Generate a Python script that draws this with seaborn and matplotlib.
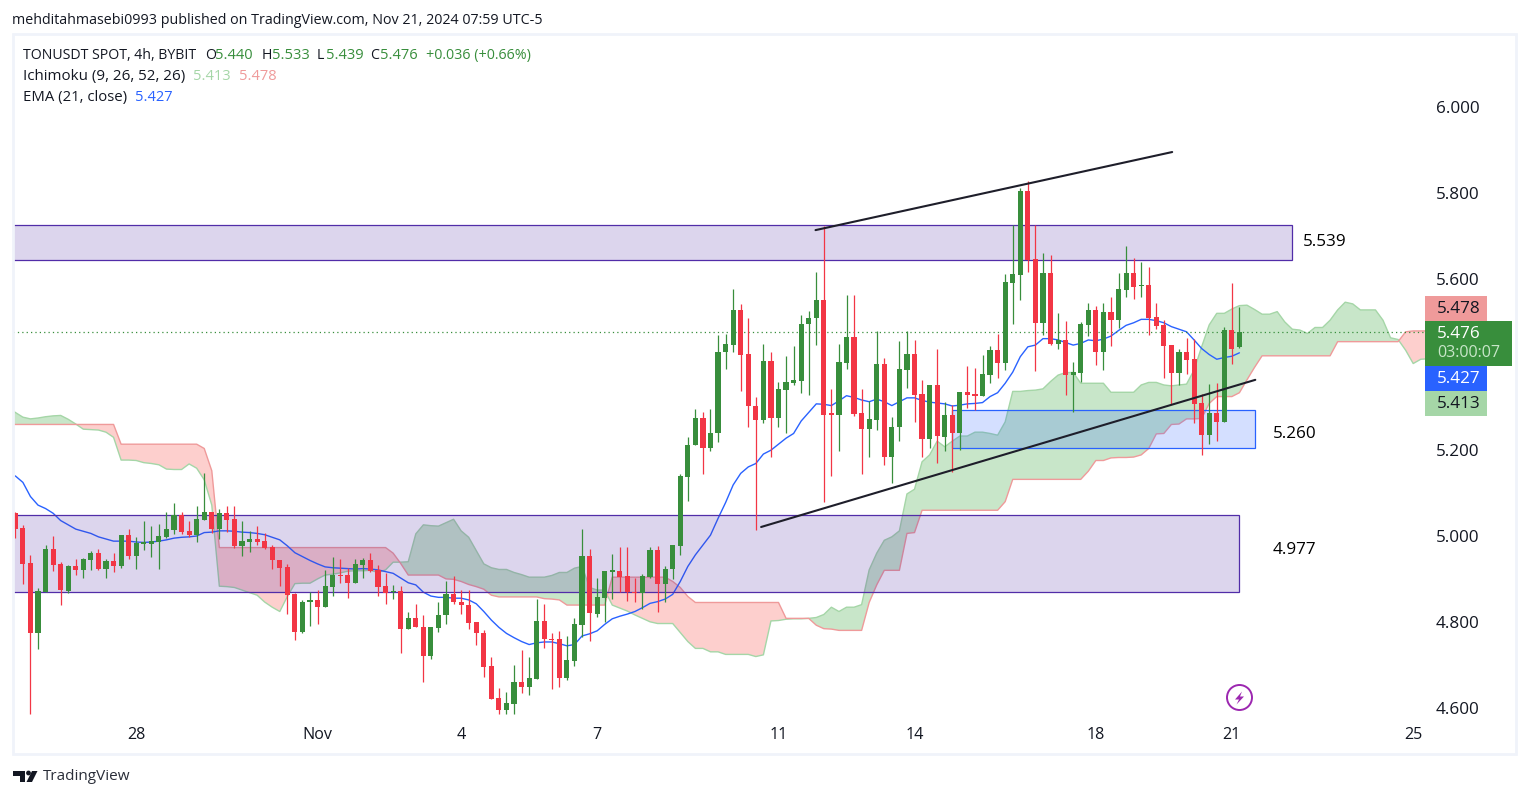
import numpy as np
import pandas as pd
import matplotlib.pyplot as plt
import seaborn as sns
from matplotlib.patches import Rectangle, Polygon, Circle
from matplotlib.transforms import Affine2D

# 4h candles, i = 0..162
opens = [
    5.053, 5.018, 4.936, 4.775, 4.869, 4.969, 4.934, 4.871, 4.929, 4.921,
    4.945, 4.960, 4.924, 4.941, 4.929, 5.002, 4.954, 4.982, 4.982, 4.987,
    4.998, 5.015, 5.049, 5.011, 5.002, 5.038, 5.055, 5.017, 5.053, 5.039,
    4.977, 4.987, 4.992, 4.988, 4.974, 4.943, 4.927, 4.864, 4.777, 4.845,
    4.850, 4.835, 4.882, 4.909, 4.908, 4.891, 4.933, 4.943, 4.920, 4.883,
    4.869, 4.871, 4.784, 4.808, 4.789, 4.721, 4.786, 4.817, 4.864, 4.845,
    4.838, 4.799, 4.775, 4.696, 4.622, 4.595, 4.609, 4.659, 4.649, 4.667,
    4.803, 4.761, 4.759, 4.670, 4.709, 4.793, 4.953, 4.819, 4.856, 4.917,
    4.918, 4.906, 4.869, 4.866, 4.904, 4.967, 4.887, 4.922, 4.977, 5.138,
    5.211, 5.274, 5.204, 5.239, 5.430, 5.446, 5.526, 5.424, 5.302, 5.271,
    5.409, 5.274, 5.341, 5.357, 5.362, 5.493, 5.507, 5.549, 5.284, 5.283,
    5.404, 5.465, 5.286, 5.250, 5.271, 5.402, 5.185, 5.253, 5.388, 5.424,
    5.330, 5.227, 5.351, 5.231, 5.282, 5.240, 5.336, 5.331, 5.326, 5.375,
    5.433, 5.403, 5.590, 5.608, 5.804, 5.646, 5.496, 5.613, 5.447, 5.457,
    5.375, 5.380, 5.492, 5.527, 5.429, 5.522, 5.503, 5.573, 5.613, 5.583,
    5.585, 5.510, 5.492, 5.445, 5.380, 5.429, 5.412, 5.310, 5.235, 5.287,
    5.266, 5.480, 5.440,
]
highs = [
    5.055, 5.025, 4.955, 4.878, 4.978, 4.999, 4.939, 4.932, 4.946, 4.948,
    4.964, 4.969, 4.946, 4.960, 5.002, 5.016, 4.997, 5.034, 5.023, 5.029,
    5.055, 5.078, 5.057, 5.036, 5.071, 5.146, 5.055, 5.062, 5.069, 5.071,
    5.036, 5.011, 5.023, 5.006, 4.978, 4.943, 4.934, 4.866, 4.850, 4.869,
    4.873, 4.920, 4.950, 4.946, 4.925, 4.946, 4.948, 4.960, 4.932, 4.913,
    4.885, 4.883, 4.824, 4.841, 4.815, 4.789, 4.845, 4.894, 4.906, 4.873,
    4.873, 4.799, 4.780, 4.719, 4.645, 4.636, 4.699, 4.734, 4.719, 4.852,
    4.841, 4.775, 4.778, 4.766, 4.810, 5.016, 4.969, 4.901, 4.918, 4.957,
    4.974, 4.974, 4.901, 4.911, 4.974, 4.976, 4.929, 4.978, 5.144, 5.230,
    5.295, 5.288, 5.295, 5.468, 5.472, 5.575, 5.540, 5.507, 5.323, 5.447,
    5.430, 5.358, 5.419, 5.444, 5.514, 5.524, 5.615, 5.723, 5.342, 5.447,
    5.561, 5.561, 5.342, 5.314, 5.477, 5.416, 5.277, 5.454, 5.477, 5.458,
    5.363, 5.351, 5.435, 5.312, 5.305, 5.336, 5.396, 5.392, 5.422, 5.443,
    5.472, 5.611, 5.724, 5.811, 5.827, 5.724, 5.660, 5.655, 5.520, 5.501,
    5.406, 5.499, 5.543, 5.536, 5.543, 5.557, 5.613, 5.676, 5.648, 5.639,
    5.627, 5.543, 5.503, 5.445, 5.436, 5.461, 5.459, 5.331, 5.354, 5.357,
    5.487, 5.590, 5.533,
]
lows = [
    4.996, 4.889, 4.586, 4.737, 4.869, 4.919, 4.838, 4.868, 4.910, 4.903,
    4.921, 4.921, 4.903, 4.915, 4.926, 4.947, 4.924, 4.968, 4.952, 4.924,
    4.996, 5.005, 5.005, 4.997, 4.987, 5.038, 5.006, 4.994, 5.009, 4.973,
    4.954, 4.963, 4.980, 4.970, 4.924, 4.884, 4.819, 4.758, 4.775, 4.791,
    4.796, 4.834, 4.859, 4.891, 4.856, 4.891, 4.901, 4.917, 4.861, 4.842,
    4.854, 4.728, 4.784, 4.789, 4.660, 4.714, 4.777, 4.796, 4.842, 4.819,
    4.784, 4.747, 4.672, 4.621, 4.586, 4.586, 4.586, 4.635, 4.630, 4.667,
    4.740, 4.644, 4.649, 4.665, 4.698, 4.765, 4.756, 4.812, 4.800, 4.852,
    4.869, 4.849, 4.847, 4.831, 4.901, 4.824, 4.845, 4.899, 4.955, 5.082,
    5.211, 5.145, 5.197, 5.220, 5.390, 5.430, 5.339, 5.253, 5.015, 5.264,
    5.185, 5.253, 5.241, 5.353, 5.334, 5.329, 5.446, 5.080, 5.141, 5.199,
    5.390, 5.280, 5.145, 5.183, 5.248, 5.166, 5.124, 5.222, 5.346, 5.266,
    5.185, 5.206, 5.171, 5.198, 5.150, 5.200, 5.298, 5.294, 5.326, 5.357,
    5.368, 5.387, 5.494, 5.550, 5.615, 5.385, 5.468, 5.445, 5.436, 5.329,
    5.289, 5.359, 5.466, 5.399, 5.387, 5.443, 5.485, 5.557, 5.552, 5.557,
    5.468, 5.482, 5.368, 5.308, 5.352, 5.378, 5.263, 5.189, 5.214, 5.221,
    5.266, 5.401, 5.439,
]
closes = [
    5.017, 4.935, 4.775, 4.871, 4.969, 4.933, 4.873, 4.929, 4.921, 4.946,
    4.960, 4.924, 4.941, 4.929, 5.002, 4.954, 4.983, 4.984, 4.988, 4.999,
    5.016, 5.049, 5.010, 5.003, 5.039, 5.055, 5.017, 5.053, 5.038, 4.977,
    4.988, 4.992, 4.986, 4.973, 4.943, 4.926, 4.863, 4.777, 4.845, 4.850,
    4.835, 4.883, 4.908, 4.907, 4.891, 4.934, 4.943, 4.919, 4.882, 4.868,
    4.871, 4.784, 4.808, 4.789, 4.721, 4.787, 4.817, 4.864, 4.845, 4.838,
    4.798, 4.775, 4.695, 4.621, 4.595, 4.610, 4.659, 4.649, 4.668, 4.803,
    4.761, 4.758, 4.670, 4.710, 4.794, 4.953, 4.820, 4.857, 4.918, 4.918,
    4.904, 4.869, 4.866, 4.906, 4.967, 4.887, 4.922, 4.978, 5.139, 5.211,
    5.274, 5.204, 5.239, 5.430, 5.447, 5.526, 5.423, 5.302, 5.271, 5.409,
    5.274, 5.342, 5.358, 5.363, 5.493, 5.507, 5.549, 5.283, 5.283, 5.405,
    5.465, 5.285, 5.250, 5.272, 5.402, 5.185, 5.253, 5.389, 5.424, 5.329,
    5.227, 5.351, 5.232, 5.282, 5.240, 5.336, 5.329, 5.326, 5.378, 5.433,
    5.403, 5.592, 5.611, 5.804, 5.643, 5.496, 5.613, 5.447, 5.457, 5.375,
    5.382, 5.494, 5.527, 5.429, 5.522, 5.503, 5.576, 5.613, 5.580, 5.585,
    5.508, 5.489, 5.443, 5.380, 5.429, 5.410, 5.308, 5.235, 5.287, 5.266,
    5.480, 5.436, 5.476,
]

# EMA(21), i = 0..162
ema = [
    5.140, 5.125, 5.092, 5.072, 5.064, 5.053, 5.036, 5.026, 5.016, 5.011,
    5.006, 4.998, 4.993, 4.988, 4.988, 4.988, 4.986, 4.985, 4.986, 4.988,
    4.991, 4.995, 4.997, 4.998, 5.000, 5.008, 5.009, 5.012, 5.012, 5.011,
    5.009, 5.008, 5.006, 5.003, 4.997, 4.991, 4.977, 4.961, 4.952, 4.943,
    4.935, 4.928, 4.926, 4.925, 4.924, 4.923, 4.924, 4.923, 4.921, 4.917,
    4.913, 4.902, 4.891, 4.886, 4.869, 4.860, 4.857, 4.857, 4.855, 4.855,
    4.851, 4.842, 4.824, 4.804, 4.787, 4.773, 4.763, 4.754, 4.747, 4.751,
    4.753, 4.753, 4.749, 4.744, 4.747, 4.767, 4.772, 4.779, 4.794, 4.807,
    4.813, 4.818, 4.824, 4.833, 4.843, 4.847, 4.853, 4.864, 4.894, 4.929,
    4.956, 4.979, 5.002, 5.041, 5.078, 5.119, 5.146, 5.161, 5.169, 5.191,
    5.200, 5.214, 5.228, 5.239, 5.268, 5.288, 5.308, 5.307, 5.304, 5.315,
    5.327, 5.323, 5.317, 5.313, 5.319, 5.313, 5.304, 5.313, 5.322, 5.322,
    5.316, 5.312, 5.310, 5.308, 5.303, 5.305, 5.308, 5.309, 5.311, 5.325,
    5.334, 5.356, 5.382, 5.418, 5.441, 5.445, 5.460, 5.460, 5.457, 5.451,
    5.445, 5.449, 5.457, 5.455, 5.459, 5.466, 5.479, 5.491, 5.497, 5.505,
    5.505, 5.502, 5.497, 5.488, 5.482, 5.476, 5.457, 5.437, 5.423, 5.412,
    5.416, 5.419, 5.427,
]

# Ichimoku leading spans, i = -1..187
span_a = [
    5.300,
    5.288, 5.277, 5.273, 5.275, 5.278, 5.280, 5.281, 5.272, 5.261, 5.249,
    5.248, 5.247, 5.242, 5.230, 5.177, 5.177, 5.176, 5.171, 5.169, 5.166,
    5.156, 5.155, 5.155, 5.168, 5.158, 5.131, 5.072, 4.883, 4.882, 4.880,
    4.874, 4.868, 4.862, 4.846, 4.834, 4.824, 4.859, 4.889, 4.890, 4.890,
    4.900, 4.909, 4.911, 4.914, 4.918, 4.919, 4.919, 4.920, 4.915, 4.921,
    4.939, 4.939, 4.940, 5.005, 5.026, 5.024, 5.023, 5.031, 5.039, 5.012,
    4.997, 4.966, 4.935, 4.926, 4.922, 4.922, 4.915, 4.910, 4.904, 4.904,
    4.904, 4.908, 4.915, 4.915, 4.925, 4.929, 4.880, 4.874, 4.874, 4.839,
    4.832, 4.825, 4.816, 4.808, 4.800, 4.796, 4.796, 4.796, 4.775, 4.754,
    4.738, 4.738, 4.730, 4.730, 4.724, 4.724, 4.724, 4.724, 4.719, 4.723,
    4.802, 4.803, 4.806, 4.807, 4.807, 4.808, 4.810, 4.817, 4.834, 4.824,
    4.834, 4.834, 4.840, 4.921, 4.960, 4.990, 4.998, 5.012, 5.098, 5.109,
    5.173, 5.189, 5.221, 5.208, 5.221, 5.233, 5.233, 5.242, 5.242, 5.239,
    5.235, 5.266, 5.337, 5.337, 5.339, 5.340, 5.343, 5.360, 5.375, 5.381,
    5.381, 5.356, 5.356, 5.356, 5.356, 5.335, 5.335, 5.335, 5.335, 5.352,
    5.358, 5.358, 5.352, 5.350, 5.352, 5.354, 5.387, 5.441, 5.492, 5.519,
    5.519, 5.529, 5.537, 5.538, 5.528, 5.517, 5.517, 5.523, 5.499, 5.482,
    5.480, 5.472, 5.486, 5.486, 5.503, 5.527, 5.545, 5.541, 5.527, 5.527,
    5.527, 5.503, 5.462, 5.458, 5.433, 5.402, 5.412, 5.413,
]
span_b = [
    5.260,
    5.260, 5.260, 5.260, 5.260, 5.260, 5.260, 5.260, 5.260, 5.260, 5.260,
    5.260, 5.260, 5.260, 5.260, 5.214, 5.214, 5.214, 5.214, 5.214, 5.214,
    5.214, 5.214, 5.214, 5.214, 5.214, 5.204, 5.152, 4.973, 4.973, 4.973,
    4.973, 4.973, 4.973, 4.973, 4.973, 4.973, 4.973, 4.973, 4.973, 4.973,
    4.973, 4.973, 4.973, 4.973, 4.973, 4.973, 4.973, 4.973, 4.973, 4.973,
    4.960, 4.936, 4.909, 4.909, 4.909, 4.909, 4.909, 4.900, 4.899, 4.894,
    4.887, 4.882, 4.876, 4.862, 4.858, 4.858, 4.858, 4.858, 4.858, 4.858,
    4.854, 4.853, 4.851, 4.839, 4.839, 4.839, 4.839, 4.839, 4.839, 4.904,
    4.904, 4.904, 4.904, 4.904, 4.904, 4.904, 4.904, 4.894, 4.880, 4.859,
    4.845, 4.845, 4.845, 4.845, 4.845, 4.845, 4.845, 4.845, 4.845, 4.845,
    4.845, 4.845, 4.808, 4.808, 4.808, 4.808, 4.792, 4.784, 4.783, 4.780,
    4.780, 4.780, 4.780, 4.845, 4.886, 4.920, 4.920, 4.920, 5.006, 5.008,
    5.060, 5.060, 5.060, 5.060, 5.060, 5.060, 5.060, 5.060, 5.060, 5.060,
    5.060, 5.080, 5.132, 5.132, 5.132, 5.132, 5.132, 5.132, 5.132, 5.132,
    5.132, 5.132, 5.151, 5.176, 5.176, 5.182, 5.183, 5.183, 5.184, 5.189,
    5.204, 5.238, 5.239, 5.260, 5.261, 5.273, 5.273, 5.274, 5.309, 5.325,
    5.325, 5.325, 5.334, 5.364, 5.393, 5.420, 5.420, 5.420, 5.420, 5.420,
    5.420, 5.420, 5.420, 5.420, 5.420, 5.453, 5.453, 5.453, 5.453, 5.453,
    5.453, 5.453, 5.453, 5.453, 5.476, 5.478, 5.478, 5.478,
]

# drawings: zones as (first bar, last bar, low, high), trend lines as bar/price ends
purple_zones = [(-3, 169.0, 5.643, 5.725), (-3, 162.0, 4.869, 5.050)]
blue_zone = (124.0, 164.0, 5.205, 5.293)
upper_trend_x, upper_trend_y = [105.9, 153.1], [5.713, 5.895]
lower_trend_x, lower_trend_y = [98.7, 164.1], [5.021, 5.364]
last_price = 5.476

date_ticks = [16, 40, 59, 77, 101, 119, 143, 161, 185]
date_labels = ['28', 'Nov', '4', '7', '11', '14', '18', '21', '25']
price_ticks = [6.0, 5.8, 5.6, 5.2, 5.0, 4.8, 4.6]

GREEN = '#388e3c'
RED = '#f23645'
BLUE = '#2962ff'
LIGHT_GREEN = '#a5d6a7'
LIGHT_RED = '#ef9a9a'
PURPLE = '#512da8'
INK = '#131722'
W, H = 1529, 798

sns.set_theme(style='white')
plt.rcParams['font.family'] = ['Open Sans', 'DejaVu Sans']

candles = pd.DataFrame({'bar': np.arange(len(opens)), 'open': opens, 'high': highs,
                        'low': lows, 'close': closes, 'ema': ema})
candles['body'] = (candles['close'] - candles['open']).abs().clip(lower=0.003)
candles['base'] = candles[['open', 'close']].min(axis=1)
candles['up'] = candles['close'] >= candles['open']
cloud = pd.DataFrame({'bar': np.arange(len(span_a)) - 1, 'a': span_a, 'b': span_b})

fig = plt.figure(figsize=(W / 100, H / 100), dpi=100, facecolor='white')
ax = fig.add_axes([13 / W, 1 - 720 / H, (1425 - 13) / W, (720 - 35) / H])

# pixel coordinates for everything that sits outside the price/bar scales
px = Affine2D().scale(1 / W, -1 / H).translate(0, 1) + fig.transFigure

# --- cloud ---
ax.fill_between(cloud['bar'], cloud['a'], cloud['b'], where=cloud['a'] >= cloud['b'],
                interpolate=True, color='#c8e6c9', lw=0, zorder=1)
ax.fill_between(cloud['bar'], cloud['a'], cloud['b'], where=cloud['a'] <= cloud['b'],
                interpolate=True, color='#fdcfcd', lw=0, zorder=1)
sns.lineplot(data=cloud, x='bar', y='a', color=LIGHT_GREEN, lw=1, ax=ax, zorder=1.5)
sns.lineplot(data=cloud, x='bar', y='b', color=LIGHT_RED, lw=1, ax=ax, zorder=1.5)

# --- EMA ---
sns.lineplot(data=candles, x='bar', y='ema', color=BLUE, lw=1, ax=ax, zorder=2)

# --- zones ---
for x0, x1, low, high in purple_zones:
    ax.add_patch(Rectangle((x0, low), x1 - x0, high - low, facecolor=PURPLE, alpha=0.2, lw=0, zorder=3))
    ax.add_patch(Rectangle((x0, low), x1 - x0, high - low, fill=False, edgecolor=PURPLE, lw=0.9, zorder=3))
x0, x1, low, high = blue_zone
ax.add_patch(Rectangle((x0, low), x1 - x0, high - low, facecolor=BLUE, alpha=0.2, lw=0, zorder=3))
ax.add_patch(Rectangle((x0, low), x1 - x0, high - low, fill=False, edgecolor=BLUE, lw=0.9, zorder=3))

ax.axhline(last_price, color=GREEN, lw=0.9, ls=(0, (1, 2.5)), zorder=3.5)

# --- candles ---
for is_up, color in [(True, GREEN), (False, RED)]:
    part = candles[candles['up'] == is_up]
    ax.vlines(part['bar'], part['low'], part['high'], color=color, lw=0.9, zorder=4)
    sns.barplot(data=part, x='bar', y='body', bottom=part['base'].values, native_scale=True,
                color=color, saturation=1, width=0.68, errorbar=None, linewidth=0, ax=ax, zorder=4.5)

# --- trend lines ---
ax.plot(upper_trend_x, upper_trend_y, color='#1e1e2a', lw=1.5, zorder=5)
ax.plot(lower_trend_x, lower_trend_y, color='#1e1e2a', lw=1.5, zorder=5)

ax.set_xlim(-0.308, 186.56)
ax.set_ylim(4.5711, 6.1678)
ax.set(xlabel='', ylabel='')
ax.set_xticks(date_ticks, date_labels)
ax.yaxis.tick_right()
ax.set_yticks(price_ticks, [f'{p:.3f}' for p in price_ticks])
ax.tick_params(axis='x', length=0, pad=5.2, labelsize=11.6, labelcolor=INK)
ax.tick_params(axis='y', length=0, pad=8.0, labelsize=12.3, labelcolor=INK)
ax.grid(False)
for spine in ax.spines.values():
    spine.set_visible(False)
ax.patch.set_alpha(0)

# --- pane frame ---
fig.add_artist(Rectangle((13, 34), 1503, 720, transform=px, fill=False, edgecolor='#f0f3fa', lw=2))


def put(x, y, s, color=INK, size=10.2, **kw):
    fig.text(x / W, 1 - (y + 1.5) / H, s, color=color, fontsize=size, va='center', **kw)


# --- header and legend ---
put(12, 19, 'mehditahmasebi0993 published on TradingView.com, Nov 21, 2024 07:59 UTC-5', size=10.3)
put(23, 54, 'TONUSDT SPOT, 4h, BYBIT', size=10.2)
for x_label, label, x_value, value in [(205, 'O', 215, '5.440'), (262, 'H', 272, '5.533'),
                                       (317, 'L', 326, '5.439'), (370, 'C', 380, '5.476')]:
    put(x_label, 54, label)
    put(x_value, 54, value, GREEN, 10.5)
put(426, 54, '+0.036 (+0.66%)', GREEN, 10.3)
put(23, 75, 'Ichimoku (9, 26, 52, 26)', size=10.9)
put(193, 75, '5.413', LIGHT_GREEN, 10.5)
put(239, 75, '5.478', LIGHT_RED, 10.5)
put(23, 96, 'EMA (21, close)', size=10.7)
put(135, 96, '5.427', BLUE, 10.5)

# --- zone labels ---
put(1303, 240, '5.539', 'black', 12.3)
put(1273, 432, '5.260', 'black', 12.3)
put(1273, 549, '4.977', 'black', 12.3)

# --- price scale tags ---
for top, bottom, right, color in [(296, 321, 1487, LIGHT_RED), (321, 366, 1512, GREEN),
                                  (366, 391, 1487, BLUE), (391, 416, 1487, LIGHT_GREEN)]:
    fig.add_artist(Rectangle((1425, top), right - 1425, bottom - top, transform=px, facecolor=color, lw=0))
put(1437, 307.5, '5.478', INK, 12.3)
put(1437, 333, '5.476', 'white', 12.3)
put(1437, 352, '03:00:07', '#c8e6c9', 11.6)
put(1437, 377.5, '5.427', 'white', 12.3)
put(1437, 402.5, '5.413', INK, 12.3)

# --- lightning badge ---
fig.add_artist(Circle((1239.5, 697.5), 12.5, transform=px, fill=False, edgecolor='#9c27b0', lw=1.4))
fig.add_artist(Polygon([(1242, 691.5), (1235, 699.5), (1239, 699.5), (1236.5, 704.5), (1244, 696.5), (1240, 696.5)],
                       closed=True, transform=px, facecolor='#9c27b0', lw=0))

# --- TradingView logo ---
fig.add_artist(Polygon([(13, 771), (25, 771), (25, 782), (20, 782), (20, 776), (13, 776)],
                       closed=True, transform=px, facecolor=INK, lw=0))
fig.add_artist(Circle((28.5, 773), 2.4, transform=px, facecolor=INK, lw=0))
fig.add_artist(Polygon([(32, 771), (37.5, 771), (32, 782), (26.5, 782)],
                       closed=True, transform=px, facecolor=INK, lw=0))
put(43, 775, 'TradingView', '#2a2e39', 11.0)

fig.savefig('out.png', dpi=100)
